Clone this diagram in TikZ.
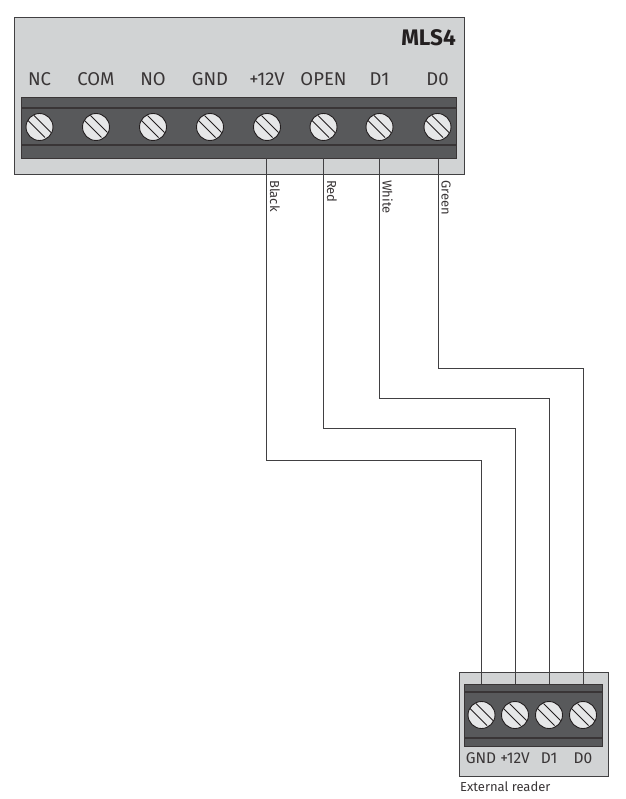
\documentclass[tikz,border=0pt]{standalone}
\usepackage{fontspec}
\setmainfont{Fira Sans}
\definecolor{boxgray}{HTML}{D1D3D4}
\definecolor{stripgray}{HTML}{58595B}
\definecolor{edgegray}{HTML}{414042}
\definecolor{screwgray}{HTML}{E6E7E8}
\definecolor{inkgray}{HTML}{231F20}
\tikzset{
  housing/.style={draw=edgegray,line width=1.2pt,fill=boxgray,inner sep=0pt,anchor=north west},
  strip/.style={draw=inkgray!90,line width=1.1pt,fill=stripgray,inner sep=0pt,anchor=north west},
  screw/.style={circle,draw=inkgray,line width=0.9pt,fill=screwgray,minimum size=27pt,inner sep=0pt,
    path picture={
      \draw[inkgray,line width=0.9pt] ([shift={(-11.5pt,6.5pt)}]path picture bounding box.center) -- ++(17pt,-17pt);
      \draw[inkgray,line width=0.9pt] ([shift={(-5.5pt,11.5pt)}]path picture bounding box.center) -- ++(17pt,-17pt);
    }},
  term/.style={font=\fontsize{18.5}{21}\selectfont,text=inkgray!90,inner sep=0pt,anchor=base},
  rterm/.style={font=\fontsize{15.5}{19}\selectfont,text=inkgray!90,inner sep=0pt,anchor=base},
  wire/.style={draw=edgegray,line width=0.8pt},
  wirelabel/.style={font=\fontsize{13}{15}\selectfont,text=inkgray!90,inner sep=0pt,rotate=-90,anchor=base west},
  title/.style={font=\bfseries\fontsize{22.5}{25}\selectfont,text=inkgray,inner sep=0pt,anchor=base east},
  caption/.style={font=\fontsize{13}{15}\selectfont,text=inkgray!90,inner sep=0pt,anchor=base west},
}
\begin{document}
\begin{tikzpicture}[x=1pt,y=-1pt]
\useasboundingbox (0,0) rectangle (625,799);
\node[housing,minimum width=450pt,minimum height=157pt] (mls) at (14,17) {};
\node[strip,minimum width=435pt,minimum height=61pt] (mstrip) at (21,97) {};
\draw[inkgray!90,line width=1.1pt] (21,108) -- (456,108) (21,145) -- (456,145);
\node[title] (mlstitle) at (456,46) {MLS4};
\foreach \n/\x/\t in {1/39.5/NC,2/96/COM,3/153/NO,4/210/GND,5/267/+12V,6/323.5/OPEN,7/379.5/D1,8/437.5/D0}{
  \node[screw] (s\n) at (\x,127) {};
  \node[term] (t\n) at (\x,85.5) {\t};
}
\node[housing,minimum width=149pt,minimum height=104pt] (reader) at (459,672) {};
\node[strip,minimum width=138pt,minimum height=62pt] (rstrip) at (464,684) {};
\draw[inkgray!90,line width=1.1pt] (464,692) -- (602,692) (464,738) -- (602,738);
\foreach \n/\x in {1/481.5,2/515,3/549,4/583}{
  \node[screw] (r\n) at (\x,715) {};
}
\node[rterm] (q1) at (481,763.5) {GND};
\node[rterm] (q2) at (515,763.5) {+12V};
\node[rterm] (q3) at (549,763.5) {D1};
\node[rterm] (q4) at (583,763.5) {D0};
\node[caption] (cap) at (460,791) {External reader};
\coordinate (a1) at (266.7,158);
\coordinate (a2) at (323.3,158);
\coordinate (a3) at (379.5,158);
\coordinate (a4) at (438,158);
\coordinate (b1) at (481.5,684);
\coordinate (b2) at (515.3,684);
\coordinate (b3) at (549,684);
\coordinate (b4) at (583,684);
\draw[wire] (a1) |- (481.5,460) -- (b1);
\draw[wire] (a2) |- (515.3,428) -- (b2);
\draw[wire] (a3) |- (549,398) -- (b3);
\draw[wire] (a4) |- (583,368) -- (b4);
\node[wirelabel] (l1) at (270,180) {Black};
\node[wirelabel] (l2) at (327,180) {Red};
\node[wirelabel] (l3) at (382.5,180) {White};
\node[wirelabel] (l4) at (441.5,180) {Green};
\end{tikzpicture}
\end{document}
